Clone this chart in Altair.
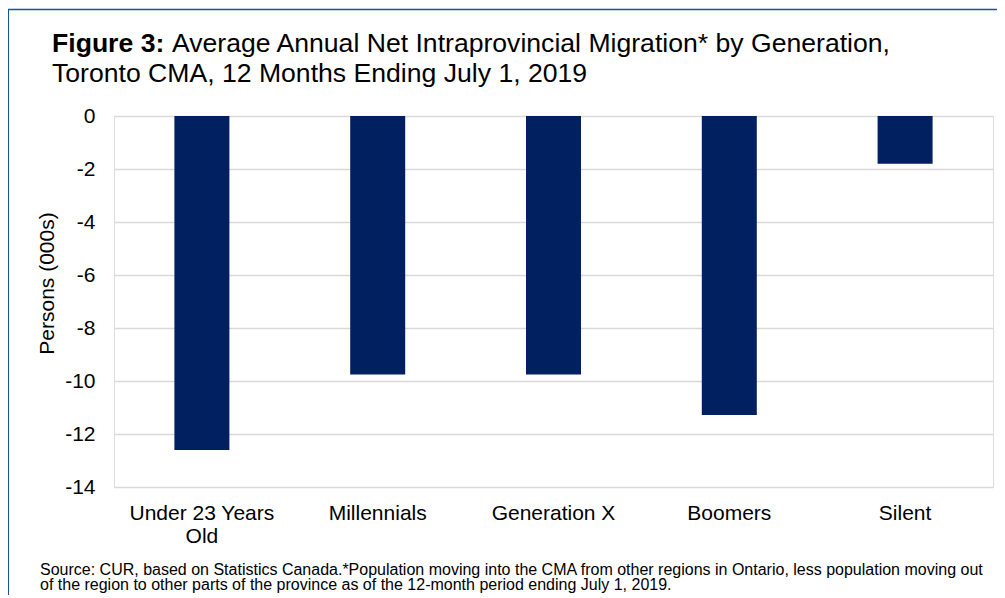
import altair as alt
import pandas as pd

categories = ["Under 23 Years|Old", "Millennials", "Generation X", "Boomers", "Silent"]
values = [-12.6, -9.75, -9.75, -11.28, -1.8]
y_ticks = [0, -2, -4, -6, -8, -10, -12, -14]

title_bold = "Figure 3:"
title_rest = "Average Annual Net Intraprovincial Migration* by Generation,"
title_line2 = "Toronto CMA, 12 Months Ending July 1, 2019"
source_line1 = ("Source: CUR, based on Statistics Canada.*Population moving into the CMA from other "
                "regions in Ontario, less population moving out")
source_line2 = "of the region to other parts of the province as of the 12-month period ending July 1, 2019."
y_title = "Persons (000s)"

FONT = "Liberation Sans"
W, H = 879, 371

df = pd.DataFrame({"cat": categories, "val": values})

bars = alt.Chart(df).mark_bar(size=55, color="#002060").encode(
    x=alt.X("cat:N", sort=categories,
            scale=alt.Scale(paddingInner=0, paddingOuter=0),
            axis=alt.Axis(title=None, labelAngle=0, labelFont=FONT, labelFontSize=21,
                          labelColor="#000000", labelPadding=15, labelLineHeight=23,
                          labelExpr="split(datum.label, '|')",
                          domain=False, ticks=False, tickSize=0, grid=False)),
    y=alt.Y("val:Q", scale=alt.Scale(domain=[-14, 0], nice=False),
            axis=alt.Axis(values=y_ticks, title=y_title, titleFont=FONT, titleFontSize=21,
                          titleFontWeight="normal", titleColor="#000000",
                          titleX=-61, titleY=167, titleAngle=270, titleBaseline="alphabetic",
                          titleAlign="center",
                          labelExpr="'' + datum.value",
                          labelFont=FONT, labelFontSize=21, labelColor="#000000",
                          labelPadding=19, domain=False, ticks=False, tickSize=0,
                          grid=True, gridColor="#d9d9d9", gridWidth=1.5)),
)

one = pd.DataFrame({"k": [0]})

def txt(text, x, y, size, weight="normal"):
    return alt.Chart(one).mark_text(
        text=text, align="left", baseline="alphabetic", font=FONT,
        fontSize=size, fontWeight=weight, color="#000000"
    ).encode(x=alt.value(x), y=alt.value(y))

t1 = txt(title_bold, -62, -64, 26.6, "bold")
t2 = txt(title_rest, 58, -64, 26.6)
t3 = txt(title_line2, -62, -34, 26.6)
s1 = txt(source_line1, -74, 459, 16)
s2 = txt(source_line2, -74, 474, 16)

frame_color = "#1452a3"
left_line = alt.Chart(one).mark_rule(color=frame_color, strokeWidth=2).encode(
    x=alt.value(-106), y=alt.value(-106.5), y2=alt.value(520))
top_line = alt.Chart(one).mark_rule(color=frame_color, strokeWidth=1.6).encode(
    x=alt.value(-107), x2=alt.value(900), y=alt.value(-106.5))

chart = alt.layer(bars, t1, t2, t3, s1, s2, left_line, top_line).properties(
    width=W, height=H,
    autosize=alt.AutoSizeParams(type="none"),
    padding={"left": 106, "top": 108, "right": 4, "bottom": 108},
).configure_view(stroke=None).configure(background="#ffffff")

chart.save("out.html", embed_options={"renderer": "svg", "actions": False})
